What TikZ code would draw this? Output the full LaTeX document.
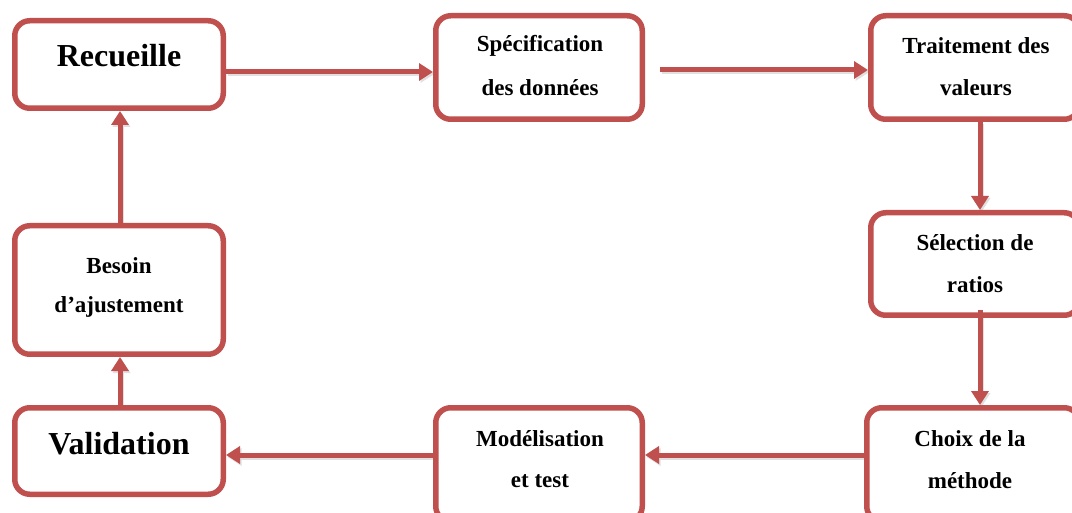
\documentclass[tikz,border=0pt]{standalone}
\usepackage{fontspec}
\setmainfont{Liberation Serif}
\usetikzlibrary{arrows.meta,calc}
\definecolor{boxred}{HTML}{C0504D}
\pgfdeclarelayer{background}
\pgfsetlayers{background,main}
\tikzset{
  box/.style={draw=boxred, line width=5.5pt, rounded corners=15pt, fill=white, inner sep=0pt},
  arr/.style={draw=boxred, line width=5pt, -{Triangle[length=14pt,width=17pt]}},
  arrshadow/.style={draw=black!12, line width=5pt, -{Triangle[length=14pt,width=17pt]},
    transform canvas={shift={(1.5pt,-2pt)}}},
  small/.style={font=\bfseries\fontsize{23}{23}\selectfont, inner sep=0pt},
  big/.style={font=\bfseries\fontsize{32}{32}\selectfont, inner sep=0pt},
}
\newcommand{\boxat}[5]{% name, x1, y1, x2, y2 (outer edges, y downwards)
  \node[box, minimum width={#4-#2-5.5}, minimum height={#5-#3-5.5}]
    (#1) at ({(#2+#4)/2},{(#3+#5)/2}) {};}
% connector with a soft shadow kept behind the boxes
\newcommand{\conn}[2]{%
  \begin{pgfonlayer}{background}\draw[arrshadow] #1 -- #2;\end{pgfonlayer}
  \draw[arr] #1 -- #2;}
\begin{document}
\begin{tikzpicture}[x=1pt,y=-1pt]
\useasboundingbox (0,0) rectangle (1072,513);
% boxes
\boxat{rec}{12}{18}{226}{111}
\boxat{spec}{433}{13}{645}{122}
\boxat{trait}{868}{13}{1082}{122}
\boxat{sel}{868}{210}{1082}{318}
\boxat{choix}{864}{405}{1082}{524}
\boxat{model}{433}{405}{645}{524}
\boxat{valid}{12}{405}{226}{497}
\boxat{besoin}{12}{223}{226}{357}
% labels
\node[big] at (119,56) {Recueille};
\node[small] at (540,46) {Spécification};
\node[small] at (540,88) {des données};
\node[small] at (976,46) {Traitement des};
\node[small] at (976,88) {valeurs};
\node[small] at (975,243) {Sélection de};
\node[small] at (975,285) {ratios};
\node[small] at (970,439) {Choix de la};
\node[small] at (970,481) {méthode};
\node[small] at (540,439) {Modélisation};
\node[small] at (540,481) {et test};
\node[big] at (119,444) {Validation};
\node[small] at (119,266) {Besoin};
\node[small] at (119,307) {d’ajustement};
% connectors
\conn{([yshift=-7.5pt]rec.east)}{([yshift=-4.5pt]spec.west)}
\conn{([xshift=15pt,yshift=-2.5pt]spec.east)}{([yshift=-2.5pt]trait.west)}
\conn{([xshift=5pt]trait.south)}{([xshift=5pt]sel.north)}
\conn{([xshift=5pt,yshift=8pt]sel.south)}{([xshift=7pt]choix.north)}
\conn{([yshift=9.5pt]choix.west)}{([yshift=9.5pt]model.east)}
\conn{([yshift=9.5pt]model.west)}{([yshift=-4pt]valid.east)}
\conn{([xshift=1pt]valid.north)}{([xshift=1pt]besoin.south)}
\conn{([xshift=1pt]besoin.north)}{([xshift=1pt]rec.south)}
\end{tikzpicture}
\end{document}
